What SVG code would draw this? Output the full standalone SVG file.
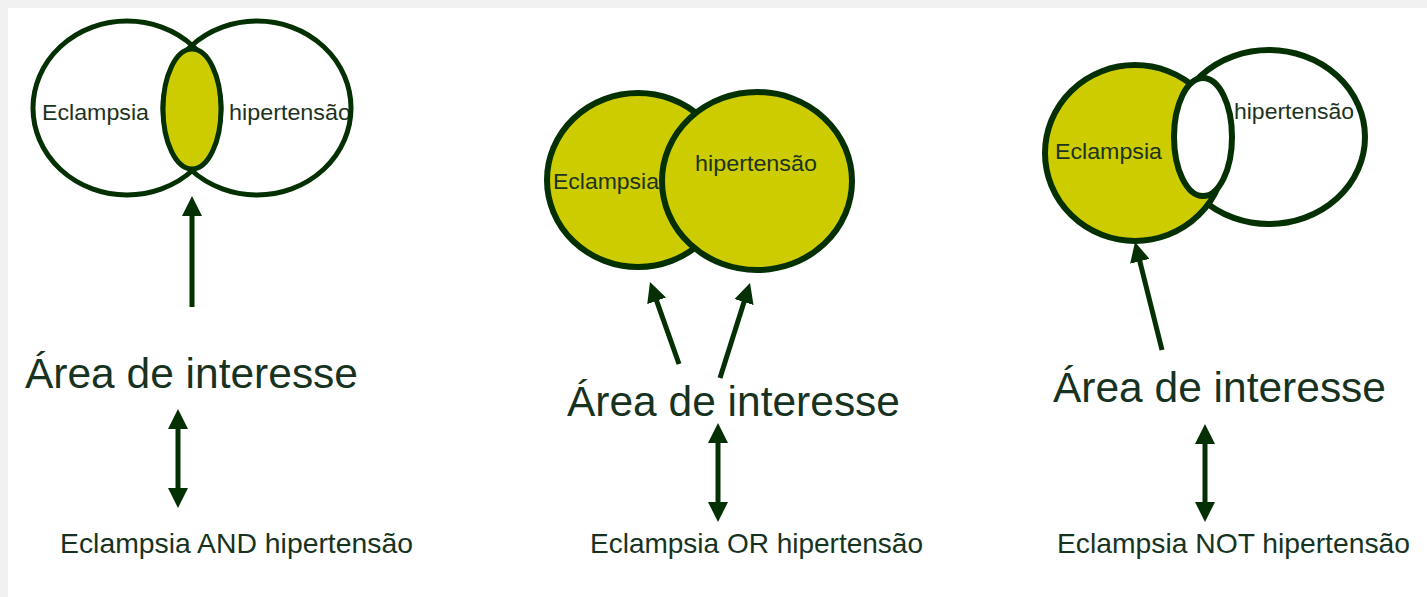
<svg xmlns="http://www.w3.org/2000/svg" width="1427" height="597" viewBox="0 0 1427 597">
<style>
.bg{fill:#f0f0f0}
.panel{fill:#ffffff}
.ring{fill:none;stroke:#043004;stroke-width:5}
.ring6{stroke-width:6}
.yel{fill:#cccc00}
.wht{fill:#ffffff}
.lbl{font-family:"Liberation Sans",Arial,sans-serif;font-size:22px;fill:#1c3320}
.big{font-family:"Liberation Sans",Arial,sans-serif;font-size:42px;fill:#17331f}
.op{font-family:"Liberation Sans",Arial,sans-serif;font-size:28px;fill:#17331f}
.arr{stroke:#043004;stroke-width:5;fill:none}
</style>
<defs>
<marker id="ah" markerUnits="userSpaceOnUse" markerWidth="20" markerHeight="20" refX="8" refY="10" orient="auto-start-reverse" viewBox="0 0 20 20">
<path d="M0,0 L20,10 L0,20 z" fill="#043004"/>
</marker>
</defs>
<rect class="bg" x="0" y="0" width="1427" height="597"/>
<rect class="panel" x="8" y="8" width="1419" height="589"/>

<!-- Diagram 1: AND -->
<g id="d1-eclampsia">
<text class="lbl" x="42" y="120" textLength="107" lengthAdjust="spacingAndGlyphs">Eclampsia</text>
<ellipse class="ring" cx="127" cy="108" rx="94" ry="87"/>
</g>
<g id="d1-hipertensao">
<text class="lbl" x="229" y="120" textLength="122" lengthAdjust="spacingAndGlyphs">hipertensão</text>
<ellipse class="ring" cx="257" cy="108" rx="94" ry="87"/>
</g>
<g id="d1-intersection">
<ellipse class="ring yel" cx="192" cy="109" rx="29" ry="60"/>
</g>
<g id="d1-area"><text class="big" x="25" y="388" textLength="333" lengthAdjust="spacingAndGlyphs">Área de interesse</text></g>
<g id="d1-query"><text class="op" x="60" y="553" textLength="353" lengthAdjust="spacingAndGlyphs">Eclampsia AND hipertensão</text></g>

<!-- Diagram 2: OR -->
<g id="d2-eclampsia">
<ellipse class="ring ring6 yel" cx="638" cy="180" rx="91" ry="87"/>
</g>
<g id="d2-hipertensao">
<ellipse class="ring ring6 yel" cx="757" cy="181" rx="95" ry="89"/>
<text class="lbl" x="695" y="171" textLength="122" lengthAdjust="spacingAndGlyphs">hipertensão</text>
</g>
<g id="d2-eclampsia-label"><text class="lbl" x="553" y="189" textLength="106" lengthAdjust="spacingAndGlyphs">Eclampsia</text></g>
<g id="d2-area"><text class="big" x="567" y="416" textLength="333" lengthAdjust="spacingAndGlyphs">Área de interesse</text></g>
<g id="d2-query"><text class="op" x="590" y="553" textLength="333" lengthAdjust="spacingAndGlyphs">Eclampsia OR hipertensão</text></g>

<!-- Diagram 3: NOT -->
<g id="d3-hipertensao">
<ellipse class="ring ring6 wht" cx="1269" cy="137" rx="96" ry="87"/>
</g>
<g id="d3-eclampsia">
<ellipse class="ring ring6 yel" cx="1135" cy="153" rx="90" ry="88"/>
<text class="lbl" x="1055" y="159" textLength="107" lengthAdjust="spacingAndGlyphs">Eclampsia</text>
</g>
<g id="d3-excluded">
<ellipse class="ring ring6 wht" cx="1203" cy="137" rx="29" ry="59"/>
</g>
<g id="d3-hipertensao-label"><text class="lbl" x="1234" y="119" textLength="120" lengthAdjust="spacingAndGlyphs">hipertensão</text></g>
<g id="d3-area"><text class="big" x="1053" y="402" textLength="333" lengthAdjust="spacingAndGlyphs">Área de interesse</text></g>
<g id="d3-query"><text class="op" x="1057" y="553" textLength="353" lengthAdjust="spacingAndGlyphs">Eclampsia NOT hipertensão</text></g>

<g id="connectors">
<line class="arr" x1="192" y1="307" x2="192" y2="208" marker-end="url(#ah)"/>
<line class="arr" x1="178" y1="421" x2="178" y2="496" marker-start="url(#ah)" marker-end="url(#ah)"/>
<line class="arr" x1="679" y1="364" x2="654" y2="293.3" marker-end="url(#ah)"/>
<line class="arr" x1="720" y1="378" x2="746.4" y2="294.4" marker-end="url(#ah)"/>
<line class="arr" x1="718" y1="435" x2="718" y2="510" marker-start="url(#ah)" marker-end="url(#ah)"/>
<line class="arr" x1="1162" y1="350" x2="1137.9" y2="253.6" marker-end="url(#ah)"/>
<line class="arr" x1="1205" y1="436" x2="1205" y2="510" marker-start="url(#ah)" marker-end="url(#ah)"/>
</g>
</svg>
